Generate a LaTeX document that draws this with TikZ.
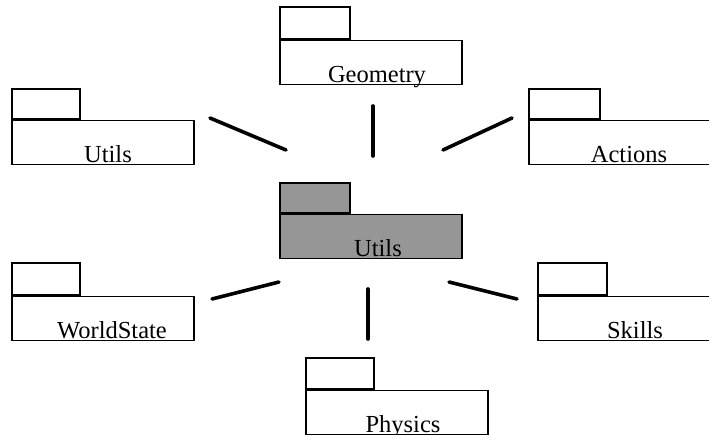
\documentclass[tikz,border=0pt]{standalone}
\usepackage{fontspec}
\setmainfont{Liberation Serif}
\definecolor{pkggray}{RGB}{150,150,150}
\tikzset{
  pkgbox/.style={draw=black, line width=1.6pt, rectangle, inner sep=0pt, anchor=north west},
  pkglabel/.style={anchor=base, inner sep=0pt, font=\fontsize{24.5}{28}\selectfont},
  link/.style={line width=3.6pt, line cap=round}
}
% \pkg{name}{x}{tab top y}{tab w}{tab h}{body h}{fill}{label x}{label}
\newcommand{\mypkg}[9]{%
  \node[pkgbox, fill=#7, minimum width=#4pt, minimum height=#5pt] (#1tab) at (#2,#3) {};
  \node[pkgbox, fill=#7, minimum width=182pt, minimum height=#6pt] (#1body) at (#1tab.south west) {};
  \node[pkglabel] (#1label) at ([yshift=2.5pt]#1body.south -| #8,0) {#9};
}
\begin{document}
\begin{tikzpicture}[x=1pt,y=-1pt]
\useasboundingbox (0,0) rectangle (709,434);
\clip (0,0) rectangle (709,434);
\mypkg{geo}{279}{6}{70}{32}{44}{white}{377}{Geometry}
\mypkg{utl}{11}{88}{68}{30}{44}{white}{108}{Utils}
\mypkg{act}{528}{88}{71}{30}{44}{white}{629}{Actions}
\mypkg{ctr}{279}{182}{70}{30}{44}{pkggray}{378}{Utils}
\mypkg{wst}{11}{262}{68}{32}{44}{white}{112}{WorldState}
\mypkg{skl}{537}{262}{69}{32}{44}{white}{635}{Skills}
\mypkg{phy}{305}{357}{68}{31}{44}{white}{403}{Physics}
\coordinate (l1a) at (210,118); \coordinate (l1b) at (286,150);
\coordinate (l2a) at (373,106); \coordinate (l2b) at (373,156);
\coordinate (l3a) at (443,150); \coordinate (l3b) at (512,118);
\coordinate (l4a) at (212,299); \coordinate (l4b) at (279,282);
\coordinate (l5a) at (368,289); \coordinate (l5b) at (368,339);
\coordinate (l6a) at (449,282); \coordinate (l6b) at (517,299);
\draw[link] (l1a) -- (l1b);
\draw[link] (l2a) -- (l2b);
\draw[link] (l3a) -- (l3b);
\draw[link] (l4a) -- (l4b);
\draw[link] (l5a) -- (l5b);
\draw[link] (l6a) -- (l6b);
\end{tikzpicture}
\end{document}
